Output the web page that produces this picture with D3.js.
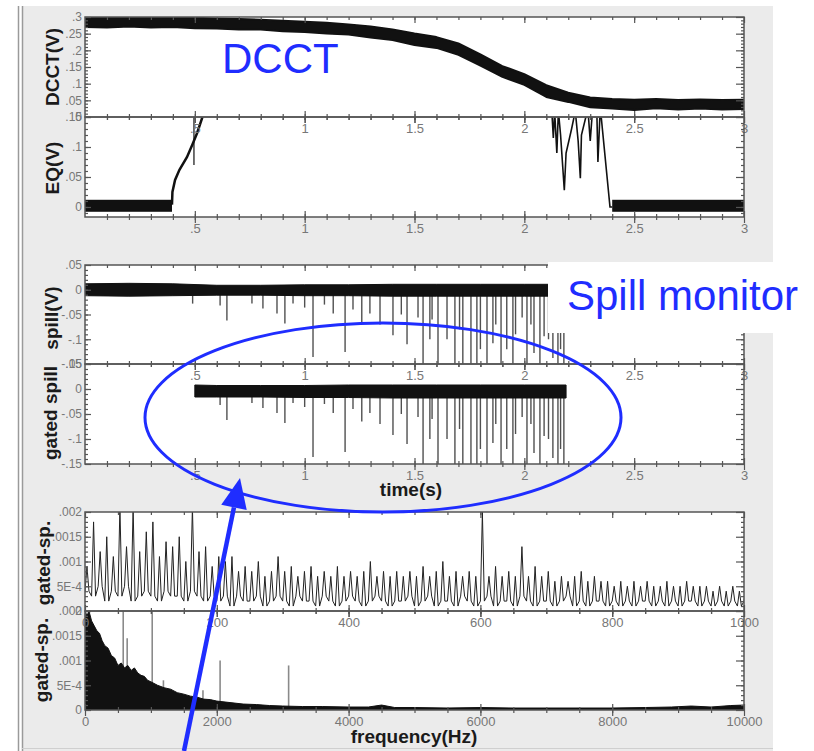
<!DOCTYPE html>
<html>
<head>
<meta charset="utf-8">
<title>DCCT and spill monitor</title>
<script src="https://cdnjs.cloudflare.com/ajax/libs/d3/7.8.5/d3.min.js"></script>
<style>
	body { margin: 0; background: #fff; }
	text { font-family: "Liberation Sans", Arial, sans-serif; }
	.ylab { font-weight: bold; font-size: 19px; fill: #1a1a1a; }
	.blue { font-size: 42px; fill: #1f2dff; }
</style>
</head>
<body>
<svg id="main" width="814" height="751"></svg>
<script>

// time axis (s)
var timeTicks = [0.5, 1, 1.5, 2, 2.5, 3];
var timeLabels = ['.5', '1', '1.5', '2', '2.5', '3'];

// DCCT(V) band, every 0.1 s
var dcctT  = d3.range(0, 3.01, 0.1);
var dcctHi = [0.300, 0.301, 0.299, 0.301, 0.298, 0.298, 0.296, 0.294, 0.292, 0.289, 0.286, 0.283, 0.278, 0.272, 0.263, 0.251, 0.240, 0.221, 0.188, 0.153, 0.129, 0.096, 0.073, 0.059, 0.054, 0.052, 0.054, 0.051, 0.053, 0.051, 0.052];
var dcctLo = [0.270, 0.268, 0.271, 0.268, 0.270, 0.266, 0.265, 0.262, 0.262, 0.257, 0.255, 0.250, 0.247, 0.238, 0.231, 0.216, 0.207, 0.186, 0.154, 0.120, 0.096, 0.060, 0.045, 0.029, 0.025, 0.021, 0.026, 0.022, 0.025, 0.022, 0.024];
var dcctTicks = [0.3, 0.25, 0.2, 0.15, 0.1, 0.05, 0];
var dcctLabels = ['.3', '.25', '.2', '.15', '.1', '.05', '0'];

// EQ(V)
var eqBaseT = [[0, 0.396], [2.4, 3]];
var eqBaseHi = 0.012, eqBaseLo = -0.008;
var eqRampT = [0.396, 0.398, 0.41, 0.43, 0.464, 0.49, 0.51, 0.533, 0.54];
var eqRampV = [0.004, 0.025, 0.045, 0.062, 0.083, 0.105, 0.123, 0.148, 0.16];
var eqGlitchT = [0.496, 0.496];
var eqGlitchV = [0.16, 0.07];
var eqFallT = [2.125, 2.132, 2.138, 2.148, 2.155, 2.165, 2.182, 2.19, 2.215, 2.232, 2.245, 2.255, 2.26, 2.28, 2.29, 2.3, 2.31, 2.33, 2.335, 2.345, 2.35, 2.39, 2.4];
var eqFallV = [0.16, 0.115, 0.16, 0.09, 0.16, 0.12, 0.028, 0.09, 0.13, 0.16, 0.11, 0.048, 0.12, 0.15, 0.16, 0.11, 0.16, 0.16, 0.075, 0.16, 0.15, 0.0, 0.0];
var eqTicks = [0.15, 0.1, 0.05, 0];
var eqLabels = ['.15', '.1', '.05', '0'];

// spill(V): noise band and downward spikes (shared by gated spill)
var spillT  = [0, 0.2, 0.4, 0.6, 0.8, 1.0, 1.2, 1.4, 1.6, 1.8, 2.0, 2.2];
var spillHi = [0.012, 0.013, 0.012, 0.009, 0.009, 0.010, 0.010, 0.011, 0.011, 0.011, 0.011, 0.011];
var spillLo = [-0.012, -0.013, -0.012, -0.011, -0.011, -0.012, -0.012, -0.013, -0.013, -0.013, -0.013, -0.013];
var gatedT  = [0.5, 0.6, 0.8, 1.0, 1.2, 1.4, 1.6, 1.8, 2.0, 2.19];
var gatedHi = [0.008, 0.007, 0.007, 0.007, 0.008, 0.008, 0.008, 0.008, 0.008, 0.008];
var gatedLo = [-0.016, -0.016, -0.016, -0.017, -0.017, -0.018, -0.018, -0.018, -0.018, -0.018];
var spikeT = [0.49, 0.615, 0.646, 0.76, 0.81, 0.874, 0.91, 0.947, 1.0, 1.038, 1.09, 1.13, 1.184, 1.22, 1.26, 1.297, 1.343, 1.402, 1.44, 1.466, 1.516, 1.539, 1.57, 1.58, 1.607, 1.648, 1.684, 1.705, 1.72, 1.757, 1.784, 1.8, 1.83, 1.857, 1.87, 1.894, 1.92, 1.948, 1.96, 1.99, 2.012, 2.03, 2.044, 2.071, 2.09, 2.11, 2.13, 2.153, 2.165, 2.18];
var spikeV = [-0.028, -0.032, -0.062, -0.028, -0.038, -0.048, -0.068, -0.028, -0.036, -0.136, -0.03, -0.048, -0.126, -0.04, -0.065, -0.048, -0.07, -0.092, -0.05, -0.11, -0.056, -0.16, -0.1, -0.06, -0.16, -0.1, -0.16, -0.08, -0.16, -0.16, -0.16, -0.12, -0.16, -0.108, -0.07, -0.16, -0.12, -0.16, -0.09, -0.056, -0.16, -0.07, -0.128, -0.16, -0.094, -0.1, -0.138, -0.16, -0.12, -0.16];
var spillTicks = [0.05, 0, -0.05, -0.1, -0.15];
var spillLabels = ['.05', '0', '-.05', '-.1', '-.15'];

// gated-sp. spectrum 0-1000 Hz, min/max per 10 Hz bin, in units of 1e-4
var specTopF = d3.range(0, 1001, 10);
var specTopHi = [9,18,12,15,11,21,13,21,12,16, 18,11,14,13,15,10,21,12,13,9, 11,10,11,8,9,8,10,7,8,11, 8,9,7,8,9,7,8,7,9,7, 8,7,8,10,7,8,7,8,7,8, 7,9,7,8,10,7,8,7,8,7, 20,7,9,7,8,7,13,7,9,7, 8,6,7,6,7,8,6,7,6,6, 5,6,5,6,5,6,5,5,6,5, 5,6,5,5,5,4,5,4,5,4, 5];
var specTopLo = [4,3,5,2,4,3,5,2,3,4, 3,2,4,3,3,2,4,3,2,3, 2,3,1,3,2,2,3,1,2,3, 2,1,3,2,2,1,3,2,1,2, 3,2,1,2,3,2,1,2,2,3, 1,2,3,1,2,2,1,3,2,1, 2,3,1,2,2,1,3,2,1,2, 2,1,2,3,1,2,1,2,2,1, 2,1,2,1,2,2,1,2,1,2, 1,2,2,1,2,1,2,1,2,1, 2];
var specTopTicks = [0, 200, 400, 600, 800, 1000];

// gated-sp. spectrum 0-10000 Hz envelope and isolated lines, units of 1e-4
var specBotF = [0, 30, 60, 100, 140, 180, 220, 260, 300, 350, 400, 450, 500, 550, 600, 650, 700, 750, 800, 850, 900, 950, 1000, 1100, 1200, 1300, 1400, 1500, 1600, 1700, 1800, 1900, 2000, 2200, 2400, 2600, 2800, 3000, 3300, 3600, 4000, 4300, 4500, 4700, 5000, 5500, 6000, 6500, 7000, 7500, 8000, 8500, 8900, 9200, 9500, 9800, 10000];
var specBotV = [20, 19, 20, 18, 17, 16, 15.5, 14, 13, 12.5, 11, 10.5, 9, 9.5, 8.5, 9, 8, 8.5, 7.5, 7, 6.8, 6, 5.7, 5, 4.5, 4.2, 3.5, 3.2, 2.8, 2.6, 2.2, 2.1, 1.8, 1.5, 1.2, 1.1, 0.9, 0.8, 0.7, 0.7, 0.6, 0.6, 1.0, 0.5, 0.5, 0.4, 0.5, 0.4, 0.4, 0.4, 0.4, 0.5, 0.6, 0.8, 0.6, 0.9, 1.0];
var specLineF = [580, 640, 1020, 1190, 1790, 2050, 3090];
var specLineV = [21, 14.5, 21, 6, 4, 10, 9];
var specBotTicks = [0, 2000, 4000, 6000, 8000, 10000];
var specYTicks = [20, 15, 10, 5, 0];
var specYLabels = ['.002', '.0015', '.001', '5E-4', '0'];

var LEFT = 85, RIGHT = 744;
var svg = d3.select('#main');

// background window
svg.append('rect').attr('x', 22).attr('y', 6).attr('width', 751).attr('height', 745).attr('fill', '#ebebeb');
svg.append('line').attr('x1', 18.5).attr('x2', 18.5).attr('y1', 6).attr('y2', 751).attr('stroke', '#9a9a9a').attr('stroke-width', 1.5);
svg.append('line').attr('x1', 22.5).attr('x2', 22.5).attr('y1', 6).attr('y2', 751).attr('stroke', '#9a9a9a').attr('stroke-width', 1.5);
svg.append('line').attr('x1', 22).attr('x2', 773).attr('y1', 748.5).attr('y2', 748.5).attr('stroke', '#cfcfcf');

var bgLayer = svg.append('g');
var dataLayer = svg.append('g');
var axisLayer = svg.append('g');
var noteLayer = svg.append('g');

function makePanel(name, top, bottom, xDomain, yDomain) {
	var x = d3.scaleLinear().domain(xDomain).range([LEFT, RIGHT]);
	var y = d3.scaleLinear().domain(yDomain).range([bottom, top]);
	bgLayer.append('rect').attr('x', LEFT).attr('y', top)
		.attr('width', RIGHT - LEFT).attr('height', bottom - top).attr('fill', '#fff');
	svg.append('clipPath').attr('id', 'clip-' + name).append('rect')
		.attr('x', LEFT).attr('y', top).attr('width', RIGHT - LEFT).attr('height', bottom - top);
	var g = dataLayer.append('g').attr('clip-path', 'url(#clip-' + name + ')');
	return { x: x, y: y, g: g, top: top, bottom: bottom };
}

function tickSet(parent, axis, tx, ty, values, size) {
	parent.append('g').attr('transform', 'translate(' + tx + ',' + ty + ')')
		.call(axis.tickValues(values).tickSize(size).tickFormat(''))
		.call(function(g) { g.select('.domain').remove(); })
		.selectAll('line').attr('stroke', '#555').attr('stroke-width', 1.2);
}

function drawAxes(p, xMajor, xLabels, xMinor, yMajor, yLabels, yMinor) {
	var a = axisLayer.append('g');
	a.append('rect').attr('x', LEFT).attr('y', p.top).attr('width', RIGHT - LEFT)
		.attr('height', p.bottom - p.top).attr('fill', 'none').attr('stroke', '#555').attr('stroke-width', 1.5);

	// bottom edge: ticks cross the line
	tickSet(a, d3.axisBottom(p.x), 0, p.bottom, xMinor, 3);
	tickSet(a, d3.axisBottom(p.x), 0, p.bottom, xMinor, -3);
	tickSet(a, d3.axisBottom(p.x), 0, p.bottom, xMajor, 6);
	tickSet(a, d3.axisBottom(p.x), 0, p.bottom, xMajor, -6);
	// top edge: inward
	tickSet(a, d3.axisBottom(p.x), 0, p.top, xMinor, 3);
	tickSet(a, d3.axisBottom(p.x), 0, p.top, xMajor, 6);
	// left and right edges: inward
	tickSet(a, d3.axisRight(p.y), LEFT, 0, yMinor, 3);
	tickSet(a, d3.axisRight(p.y), LEFT, 0, yMajor, 6);
	tickSet(a, d3.axisLeft(p.y), RIGHT, 0, yMinor, 3);
	tickSet(a, d3.axisLeft(p.y), RIGHT, 0, yMajor, 8);

	a.append('g').attr('transform', 'translate(0,' + p.bottom + ')')
		.call(d3.axisBottom(p.x).tickValues(xMajor).tickSize(0).tickPadding(7)
			.tickFormat(function(d, i) { return xLabels[i]; }))
		.call(function(g) { g.select('.domain').remove(); })
		.selectAll('text').attr('fill', '#777').attr('font-size', 13)
		.attr('font-family', '"Liberation Sans", Arial, sans-serif');

	a.append('g').attr('transform', 'translate(' + LEFT + ',0)')
		.call(d3.axisLeft(p.y).tickValues(yMajor).tickSize(0).tickPadding(3)
			.tickFormat(function(d, i) { return yLabels[i]; }))
		.call(function(g) { g.select('.domain').remove(); })
		.selectAll('text').attr('fill', '#777').attr('font-size', 12)
		.attr('font-family', '"Liberation Sans", Arial, sans-serif');
}

function yLabel(txt, cx, cy) {
	axisLayer.append('text').attr('class', 'ylab')
		.attr('transform', 'translate(' + cx + ',' + cy + ') rotate(-90)')
		.attr('text-anchor', 'middle').attr('dy', '0.35em').text(txt);
}

var timeMinor = d3.range(0.1, 3, 0.1);

// ---- DCCT
var pD = makePanel('dcct', 17, 117, [0, 3], [0, 0.3]);
pD.g.append('path').datum(dcctT)
	.attr('d', d3.area()
		.x(function(d) { return pD.x(d); })
		.y0(function(d, i) { return pD.y(dcctLo[i]); })
		.y1(function(d, i) { return pD.y(dcctHi[i]); }))
	.attr('fill', '#111').attr('stroke', '#111').attr('stroke-width', 1.8).attr('stroke-linejoin', 'bevel');

// ---- EQ
var pE = makePanel('eq', 117, 217, [0, 3], [-0.0167, 0.15]);
eqBaseT.forEach(function(seg) {
	pE.g.append('rect').attr('x', pE.x(seg[0])).attr('y', pE.y(eqBaseHi))
		.attr('width', pE.x(seg[1]) - pE.x(seg[0])).attr('height', pE.y(eqBaseLo) - pE.y(eqBaseHi))
		.attr('fill', '#111');
});
function eqLine(ts, vs, w) {
	pE.g.append('path').datum(ts)
		.attr('d', d3.line().x(function(d) { return pE.x(d); }).y(function(d, i) { return pE.y(vs[i]); }))
		.attr('fill', 'none').attr('stroke', '#111').attr('stroke-width', w);
}
eqLine(eqRampT, eqRampV, 2.5);
eqLine(eqGlitchT, eqGlitchV, 1.2);
eqLine(eqFallT, eqFallV, 1.6);

// ---- spill and gated spill
function spillPanel(p, bt, hi, lo, tMin) {
	p.g.selectAll('line.spike')
		.data(spikeT.filter(function(t) { return t >= tMin; }))
		.enter().append('line')
		.attr('x1', function(d) { return p.x(d); }).attr('x2', function(d) { return p.x(d); })
		.attr('y1', p.y(0))
		.attr('y2', function(d) { return p.y(spikeV[spikeT.indexOf(d)]); })
		.attr('stroke', '#505050').attr('stroke-width', 1.4);
	p.g.append('path').datum(bt)
		.attr('d', d3.area()
			.x(function(d) { return p.x(d); })
			.y0(function(d, i) { return p.y(lo[i]); })
			.y1(function(d, i) { return p.y(hi[i]); }))
		.attr('fill', '#111').attr('stroke', '#111').attr('stroke-width', 1);
}
var pS = makePanel('spill', 265, 364, [0, 3], [-0.15, 0.05]);
spillPanel(pS, spillT, spillHi, spillLo, 0);
var pG = makePanel('gated', 364, 464, [0, 3], [-0.15, 0.05]);
spillPanel(pG, gatedT, gatedHi, gatedLo, 0.5);

// ---- spectra: each 10 Hz bin drawn as a narrow lo-hi-lo spike
var pT = makePanel('spectop', 512, 611, [0, 1000], [0, 20]);
var zig = [];
specTopF.forEach(function(f, i) {
	zig.push([f, specTopLo[i]]);
	zig.push([f + 3, specTopHi[i]]);
	zig.push([f + 6, specTopLo[i]]);
});
pT.g.append('path').datum(zig)
	.attr('d', d3.line().x(function(d) { return pT.x(d[0]); }).y(function(d) { return pT.y(d[1]); }))
	.attr('fill', 'none').attr('stroke', '#222').attr('stroke-width', 1);

var pB = makePanel('specbot', 611, 710, [0, 10000], [0, 20]);
pB.g.selectAll('line.ln').data(specLineF).enter().append('line')
	.attr('x1', function(d) { return pB.x(d); }).attr('x2', function(d) { return pB.x(d); })
	.attr('y1', pB.y(0)).attr('y2', function(d, i) { return pB.y(specLineV[i]); })
	.attr('stroke', '#8a8a8a').attr('stroke-width', 1.6);
pB.g.append('path').datum(specBotF)
	.attr('d', d3.area()
		.x(function(d) { return pB.x(d); })
		.y0(pB.y(0))
		.y1(function(d, i) { return pB.y(specBotV[i]); }))
	.attr('fill', '#111').attr('stroke', '#111').attr('stroke-width', 1);

// axes (after data so ticks sit on top)
drawAxes(pD, timeTicks, timeLabels, timeMinor, dcctTicks, dcctLabels, d3.range(0.01, 0.3, 0.01));
drawAxes(pE, timeTicks, timeLabels, timeMinor, eqTicks, eqLabels, d3.range(-0.01, 0.15, 0.01));
drawAxes(pS, timeTicks, timeLabels, timeMinor, spillTicks, spillLabels, d3.range(-0.14, 0.05, 0.01));
drawAxes(pG, timeTicks, timeLabels, timeMinor, spillTicks, spillLabels, d3.range(-0.14, 0.05, 0.01));
drawAxes(pT, specTopTicks, specTopTicks.map(String), d3.range(50, 1000, 50), specYTicks, specYLabels, d3.range(1, 20, 1));
drawAxes(pB, specBotTicks, specBotTicks.map(String), d3.range(500, 10000, 500), specYTicks, specYLabels, d3.range(1, 20, 1));

yLabel('DCCT(V)', 52, 67);
yLabel('EQ(V)', 52, 168);
yLabel('spill(V)', 51, 318);
yLabel('gated spill', 50, 413);
yLabel('gated-sp.', 43, 563);
yLabel('gated-sp.', 41, 660);

axisLayer.append('text').attr('x', 411).attr('y', 496).attr('text-anchor', 'middle')
	.attr('font-weight', 'bold').attr('font-size', 19).attr('fill', '#1a1a1a').text('time(s)');
axisLayer.append('text').attr('x', 414).attr('y', 743).attr('text-anchor', 'middle')
	.attr('font-weight', 'bold').attr('font-size', 19).attr('fill', '#1a1a1a').text('frequency(Hz)');

// ---- annotations
noteLayer.append('text').attr('class', 'blue').attr('x', 222).attr('y', 73).text('DCCT');
noteLayer.append('rect').attr('x', 548).attr('y', 262).attr('width', 266).attr('height', 71).attr('fill', '#fff');
noteLayer.append('text').attr('class', 'blue').attr('x', 567).attr('y', 310).text('Spill monitor');
noteLayer.append('ellipse').attr('cx', 383).attr('cy', 417.5).attr('rx', 238).attr('ry', 94.5)
	.attr('fill', 'none').attr('stroke', '#1f2dff').attr('stroke-width', 3);

var a0 = [184, 751], tip = [240, 478];
var len = Math.hypot(tip[0] - a0[0], tip[1] - a0[1]);
var ux = (tip[0] - a0[0]) / len, uy = (tip[1] - a0[1]) / len;
var base = [tip[0] - ux * 30, tip[1] - uy * 30];
noteLayer.append('line').attr('x1', a0[0]).attr('y1', a0[1]).attr('x2', base[0]).attr('y2', base[1])
	.attr('stroke', '#1f2dff').attr('stroke-width', 4.5);
noteLayer.append('polygon')
	.attr('points', [tip, [base[0] - uy * 13, base[1] + ux * 13], [base[0] + uy * 13, base[1] - ux * 13]]
		.map(function(p) { return p.join(','); }).join(' '))
	.attr('fill', '#1f2dff');

</script>
</body>
</html>
